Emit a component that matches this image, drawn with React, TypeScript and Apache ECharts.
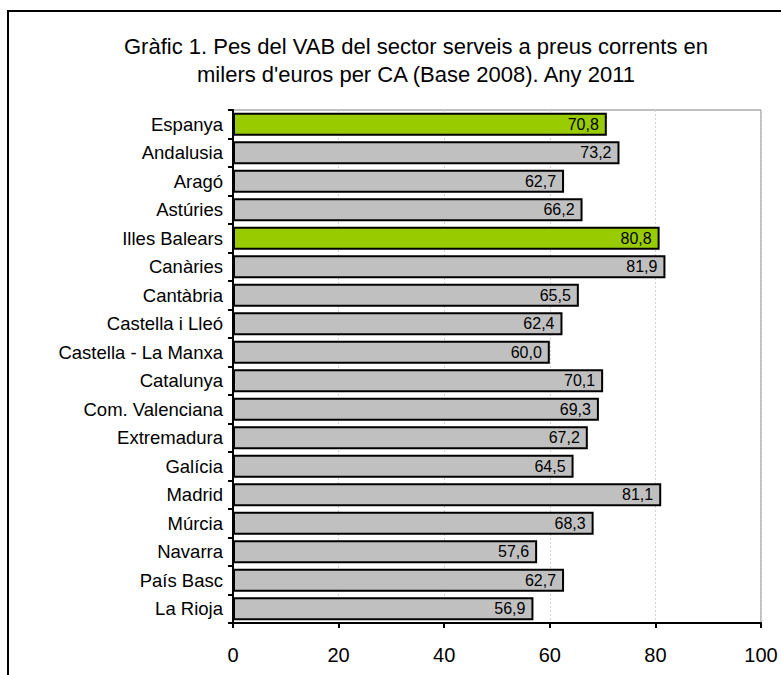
import React, { useEffect, useRef } from "react";
import * as echarts from "echarts";

const categories = [
  "Espanya",
  "Andalusia",
  "Aragó",
  "Astúries",
  "Illes Balears",
  "Canàries",
  "Cantàbria",
  "Castella i Lleó",
  "Castella - La Manxa",
  "Catalunya",
  "Com. Valenciana",
  "Extremadura",
  "Galícia",
  "Madrid",
  "Múrcia",
  "Navarra",
  "País Basc",
  "La Rioja",
];

const values = [70.8, 73.2, 62.7, 66.2, 80.8, 81.9, 65.5, 62.4, 60.0, 70.1, 69.3, 67.2, 64.5, 81.1, 68.3, 57.6, 62.7, 56.9];

const highlighted = ["Espanya", "Illes Balears"];

const titleLines = [
  "Gràfic 1. Pes del VAB del sector serveis a preus corrents en",
  "milers d'euros per CA (Base 2008). Any 2011",
];

const FONT = "'Liberation Sans', Arial, sans-serif";

export default function App() {
  const ref = useRef<HTMLDivElement>(null);
  useEffect(() => {
    if (!ref.current) return;
    const chart = echarts.init(ref.current, null, { renderer: "svg" });
    chart.setOption({
      animation: false,
      backgroundColor: "#ffffff",
      textStyle: { fontFamily: FONT },
      title: {
        text: titleLines.join("\n"),
        left: 416,
        top: 32,
        padding: 0,
        textAlign: "center",
        textStyle: {
          fontFamily: FONT,
          fontSize: 22,
          fontWeight: "normal",
          color: "#000",
          lineHeight: 28,
        },
      },
      graphic: [
        {
          type: "rect",
          shape: { x: 8, y: 11, width: 900, height: 900 },
          style: { fill: "none", stroke: "#000", lineWidth: 2 },
          silent: true,
          z: 100,
        },
      ],
      grid: {
        left: 233,
        right: 20,
        top: 110,
        bottom: 52,
        show: true,
        borderColor: "#808080",
        borderWidth: 1,
        containLabel: false,
      },
      xAxis: {
        type: "value",
        min: 0,
        max: 100,
        interval: 20,
        axisLine: { show: true, lineStyle: { color: "#000", width: 2 } },
        axisTick: { show: true, length: 5, lineStyle: { color: "#000", width: 2 } },
        axisLabel: { fontFamily: FONT, fontSize: 20, color: "#000", margin: 22 },
        splitLine: { show: true, lineStyle: { color: "#d4d4d4", type: [2, 2], width: 1 } },
      },
      yAxis: {
        type: "category",
        data: categories,
        inverse: true,
        axisLine: { show: true, lineStyle: { color: "#000", width: 2 } },
        axisTick: { show: true, length: 5, alignWithLabel: false, lineStyle: { color: "#000", width: 2 } },
        axisLabel: { fontFamily: FONT, fontSize: 18.5, color: "#000", margin: 10 },
        splitLine: { show: false },
      },
      series: [
        {
          type: "bar",
          data: values.map((v, i) => ({
            value: v,
            itemStyle: {
              color: highlighted.includes(categories[i]) ? "#99cc00" : "#c0c0c0",
            },
          })),
          barCategoryGap: "20%",
          itemStyle: { borderColor: "#000", borderWidth: 2 },
          label: {
            show: true,
            position: "insideRight",
            distance: 8,
            color: "#000",
            fontFamily: FONT,
            fontSize: 16,
            formatter: (p: any) => p.value.toFixed(1).replace(".", ","),
          },
        },
      ],
    });
    return () => chart.dispose();
  }, []);
  return (
    <div
      ref={ref}
      style={{ position: "absolute", left: 0, top: 0, width: 781, height: 675 }}
    />
  );
}
